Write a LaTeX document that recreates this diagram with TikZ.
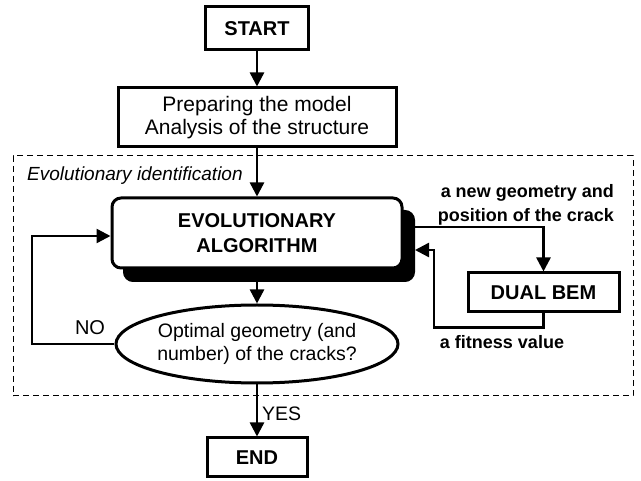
\documentclass[tikz,border=0pt]{standalone}
\usepackage{fontspec}
\setmainfont{Liberation Sans}
\usetikzlibrary{arrows.meta,shapes.geometric}
\begin{document}
\begin{tikzpicture}[x=1pt,y=-1pt,
  box/.style={draw,line width=3pt,inner sep=0pt,align=center,fill=white},
  bt/.style={font=\fontsize{20}{24.5}\selectfont\bfseries},
  nt/.style={font=\fontsize{21}{22.5}\selectfont},
  lbl/.style={font=\fontsize{18}{24}\selectfont\bfseries,inner sep=0pt},
  conn/.style={line width=2.4pt,-{Triangle[length=14pt,width=14pt]}},
  frame/.style={draw,line width=1pt,dash pattern=on 6pt off 4pt,inner sep=0pt}]
\useasboundingbox (0,0) rectangle (641,481);
% frame
\node[frame,minimum width=620pt,minimum height=240pt] (fr) at (323,276) {};
\node[font=\fontsize{19}{22}\selectfont\itshape,inner sep=0pt,anchor=base west] (evid) at (27,181) {Evolutionary identification};
% nodes
\node[box,bt,minimum width=103pt,minimum height=43pt] (start) at (257,28.5) {START};
\node[box,nt,minimum width=278pt,minimum height=59pt] (prep) at (257,117.5) {Preparing the model\\Analysis of the structure};
\node[draw,fill=black,rounded corners=9pt,line width=2pt,minimum width=290pt,minimum height=70pt,inner sep=0pt] (EAs) at (269,246) {};
\node[box,bt,rounded corners=9pt,minimum width=290pt,minimum height=70pt] (EA) at (257,233) {EVOLUTIONARY\\ALGORITHM};
\node[box,bt,minimum width=151pt,minimum height=39pt] (dual) at (543.5,292.5) {DUAL BEM};
\node[box,ellipse,font=\fontsize{19.5}{23}\selectfont,minimum width=262pt,minimum height=78pt] (ell) at (257,344) {Optimal geometry (and\\number) of the cracks?};
\node[box,bt,minimum width=100pt,minimum height=39pt] (end) at (257,457.5) {END};
% labels
\node[lbl,align=right,anchor=east] (newgeo) at (614,205) {a new geometry and\\position of the crack};
\node[lbl] (fit) at (502,342) {a fitness value};
\node[font=\fontsize{20}{24}\selectfont,inner sep=0pt] (no) at (90,328) {NO};
\node[font=\fontsize{19.5}{24}\selectfont,inner sep=0pt,anchor=west] (yes) at (262,414) {YES};
% connectors
\coordinate (lp) at (32,236);
\coordinate (r1) at (543.5,227);
\coordinate (r2) at (434,250);
\draw[conn] (start) -- (prep);
\draw[conn] (prep) -- (EA);
\draw[conn] (EA.south |- EAs.south) -- (ell.north);
\draw[conn] (ell.west) -| (lp) -- (lp -| EA.west);
\draw[conn] (r1 -| EAs.east) -| (dual.north);
\draw[conn] (dual.south) -- ++(0,14) -| (r2) -- (r2 -| EAs.east);
\draw[conn] (ell.south) -- (end.north);
\end{tikzpicture}
\end{document}
